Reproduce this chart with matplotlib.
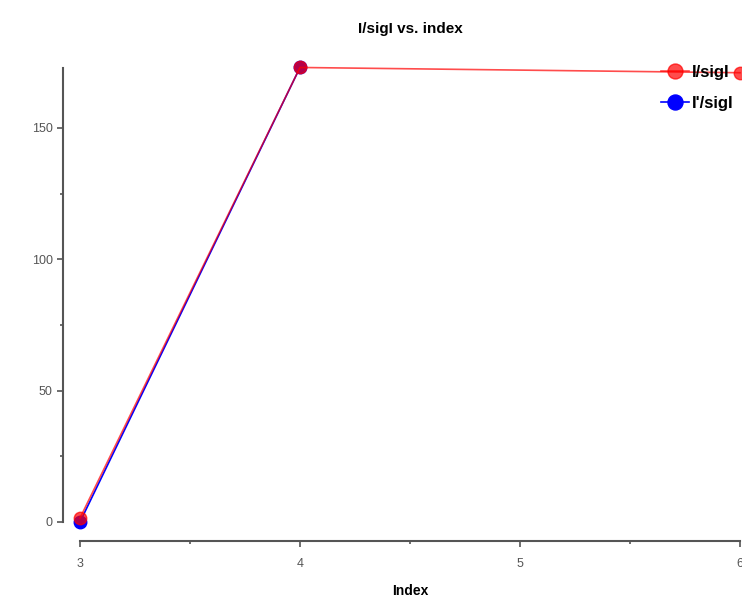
import matplotlib
matplotlib.use("Agg")
import matplotlib.pyplot as plt
from matplotlib.ticker import MultipleLocator

# series values
x_isig = [3, 4, 6]
y_isig = [1.5, 173, 171]
x_isig_prime = [3, 4]
y_isig_prime = [0, 173]

x_ticks = [3, 4, 5, 6]
y_ticks = [0, 50, 100, 150]

plt.rcParams['font.family'] = ['Liberation Sans', 'DejaVu Sans']

W, H = 742, 599
fig = plt.figure(figsize=(W / 100, H / 100), dpi=100)
ax = fig.add_axes([80 / W, 1 - 522 / H, 660 / W, 454 / H])

ax.plot(x_isig_prime, y_isig_prime, color='blue', lw=1.2, marker='o', ms=9,
        label="I'/sigI", clip_on=False, zorder=3)
ax.plot(x_isig, y_isig, color='red', lw=1.2, alpha=0.7, marker='o', ms=9,
        markerfacecolor='red', markeredgecolor='red', label='I/sigI',
        clip_on=False, zorder=4)

ax.set_xlim(3, 6)
ax.set_ylim(0, 172.8)
ax.set_xticks(x_ticks)
ax.set_yticks(y_ticks)
ax.xaxis.set_minor_locator(MultipleLocator(0.5))
ax.yaxis.set_minor_locator(MultipleLocator(25))

for side in ('top', 'right'):
    ax.spines[side].set_visible(False)
# detached axes, offsets given in points (1 px = 0.72 pt at 100 dpi)
ax.spines['left'].set_position(('outward', 12.2))
ax.spines['bottom'].set_position(('outward', 13.7))
for side in ('left', 'bottom'):
    ax.spines[side].set_color('#555555')
    ax.spines[side].set_linewidth(1.5)

ax.tick_params(which='major', length=4, width=1.2, color='#555555',
               labelsize=9, labelcolor='#555555')
ax.tick_params(axis='x', which='major', pad=8)
ax.tick_params(which='minor', length=2.5, width=1.2, color='#555555')

ax.set_title('I/sigI vs. index', fontsize=11, fontweight='bold', pad=25)
ax.set_xlabel('Index', fontsize=10, fontweight='bold', labelpad=10)

handles, labels = ax.get_legend_handles_labels()
leg = ax.legend(handles[::-1], labels[::-1], loc='upper left',
                bbox_to_anchor=(566 / 660, 1.04), frameon=False,
                prop={'weight': 'bold', 'size': 12}, handlelength=1.7,
                handletextpad=0.15, labelspacing=0.95, markerscale=1.2)

fig.savefig('out.png', dpi=100)
